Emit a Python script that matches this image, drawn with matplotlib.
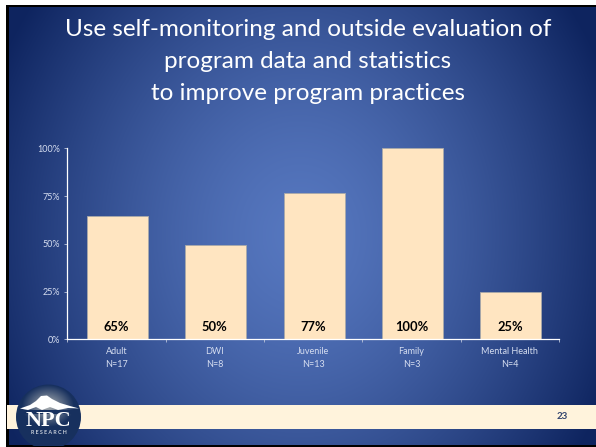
import numpy as np
import matplotlib
matplotlib.use("Agg")
import matplotlib.pyplot as plt
from matplotlib.patches import Circle, Polygon, Rectangle

categories = ["Adult\nN=17", "DWI\nN=8", "Juvenile\nN=13", "Family\nN=3", "Mental Health\nN=4"]
values = [64.7, 49.6, 76.5, 100, 24.7]
bar_labels = ["65%", "50%", "77%", "100%", "25%"]
y_ticks = [0, 25, 50, 75, 100]
y_tick_labels = ["0%", "25%", "50%", "75%", "100%"]
title_lines = ["Use self-monitoring and outside evaluation of",
               "program data and statistics",
               "to improve program practices"]
page_number = "23"

W, H = 596, 447
plt.rcParams['font.family'] = ['Lato', 'DejaVu Sans']

fig = plt.figure(figsize=(W/100, H/100), dpi=100, facecolor='white')

# overlay in pixel coords, y going down
bg = fig.add_axes([0, 0, 1, 1])
bg.set_xlim(0, W)
bg.set_ylim(H, 0)
bg.axis('off')

bg.add_patch(Rectangle((6, 5), W-6, H-5, color='black', lw=0))

# slide background, radial
xx, yy = np.meshgrid(np.arange(9, W)+0.5, np.arange(7, 445)+0.5)
r = np.hypot((xx-300)/335, (yy-235)/390)
t = np.clip(r, 0, 1)[..., None]**1.45
inner = np.array([0x56, 0x77, 0xBF])/255
outer = np.array([0x0E, 0x24, 0x5F])/255
bg.imshow(inner*(1-t) + outer*t, extent=[9, W, 445, 7], aspect='auto', zorder=1, interpolation='bilinear')

# title
for line, y in zip(title_lines, [29.5, 61.5, 93]):
    bg.text(308, y, line, color='white', fontsize=17.5, ha='center', va='center', zorder=3)

# footer band
bg.add_patch(Rectangle((7, 405), W-7, 24, color='#FFF3DC', lw=0, zorder=2))
bg.text(562.7, 416.5, page_number, color='#33456F', fontsize=7, fontweight='bold',
        ha='center', va='center', zorder=3)

# logo
navy = np.array([0x17, 0x30, 0x5E])/255
glow = np.array([0xB0, 0xB4, 0xB4])/255
lx, ly = np.meshgrid(np.arange(15, 83)+0.5, np.arange(384, 446)+0.5)
g = np.clip(1-np.hypot((lx-48)/26, (ly-406)/21), 0, 1)[..., None]
logo_bg = bg.imshow(navy*(1-g) + glow*g, extent=[15, 83, 446, 384], aspect='auto', zorder=3)
logo_bg.set_clip_path(Circle((48.5, 417), 32.5, transform=bg.transData))
bg.add_patch(Polygon([(20, 408.5), (30, 405), (36, 401), (41, 396), (47, 395.5), (52, 399),
                      (60, 403), (70, 406), (79, 408.5), (68, 408), (58, 410), (50, 407),
                      (42, 410), (36, 407), (28, 410)],
                     closed=True, color='white', lw=0, zorder=4))
bg.add_patch(Rectangle((17, 410), 63, 4, color='#17305E', lw=0, zorder=4))
bg.text(48.8, 421.5, "NPC", color='white', fontsize=16, fontweight='bold', family='Liberation Serif',
        ha='center', va='center', zorder=5)
bg.text(49, 433, "R E S E A R C H", color='#C9D0DA', fontsize=3.9, fontweight='bold',
        ha='center', va='center', zorder=5)
bg.set_xlim(0, W)
bg.set_ylim(H, 0)

# chart
x0, x1, y_top, y_bot = 67.3, 559, 148.3, 339.3
ax = fig.add_axes([x0/W, 1-y_bot/H, (x1-x0)/W, (y_bot-y_top)/H])
ax.patch.set_alpha(0)
x = np.arange(len(categories))
ax.bar(x+0.01, values, width=0.62, color='#FFE5C1', edgecolor='#A9A9A9', linewidth=0.6, zorder=2)
for i, lab in enumerate(bar_labels):
    ax.text(x[i], 6.7, lab, color='black', fontsize=9.3, fontweight='bold', ha='center', va='center', zorder=3)

ax.set_xlim(-0.5, len(categories)-0.5)
ax.set_ylim(0, 100)
ax.set_yticks(y_ticks)
ax.set_yticklabels(y_tick_labels)
ax.set_xticks(np.arange(len(categories)+1)-0.5)
ax.set_xticklabels([])
ax.set_xticks(x, minor=True)
ax.set_xticklabels(categories, minor=True, linespacing=1.6)
ax.tick_params(axis='x', which='minor', length=0, pad=5.5, labelsize=6.5, labelcolor='#D5DDF0')
ax.tick_params(axis='x', which='major', length=2.5, width=0.6, color='#B8C2DA')
ax.tick_params(axis='y', length=2.5, width=0.6, color='#B8C2DA', labelsize=6.5, labelcolor='#D5DDF0', pad=3)
for s in ['top', 'right']:
    ax.spines[s].set_visible(False)
for s in ['left', 'bottom']:
    ax.spines[s].set_color('white')
    ax.spines[s].set_linewidth(0.9)
ax.spines['bottom'].set_zorder(4)

fig.savefig("out.png", dpi=100, facecolor='white')
